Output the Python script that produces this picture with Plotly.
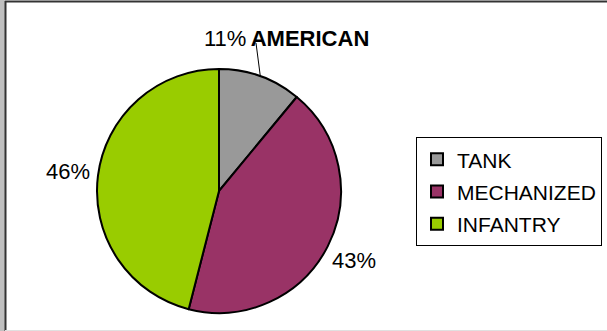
import math
import plotly.graph_objects as go

# Data
categories = ["TANK", "MECHANIZED", "INFANTRY"]
values = [11, 43, 46]
colors = ["#999999", "#993366", "#99CC00"]
title_text = "AMERICAN"

W, H = 607, 331
FONT = "Liberation Sans, Arial, sans-serif"

# pie placement (pixels)
cx, cy, r = 219, 191, 122
dom_x = [(cx - r) / W, (cx + r) / W]
dom_y = [1 - (cy + r) / H, 1 - (cy - r) / H]

total = sum(values)
pct = [f"{round(100 * v / total)}%" for v in values]

legend_labels = [f"<span style='font-size:21px'>{c}</span>" for c in categories]

fig = go.Figure(go.Pie(
    labels=legend_labels,
    values=values,
    sort=False,
    direction="clockwise",
    rotation=0,
    marker=dict(colors=colors, line=dict(color="black", width=2)),
    textinfo="none",
    domain=dict(x=dom_x, y=dom_y),
    hovertext=categories,
    hoverinfo="text+percent",
))

# data labels placed along each slice's mid-angle (Excel style)
cum = 0
label_r = 152
for i, v in enumerate(values):
    mid = (cum + v / 2) / total
    cum += v
    a = 2 * math.pi * mid
    ex = cx + r * math.sin(a)
    ey = cy - r * math.cos(a)
    if i == 0:
        # small slice: label moved up-left with a leader line
        lx, ly = 225, 38
        fig.add_shape(type="line", xref="paper", yref="paper",
                      x0=ex / W, y0=1 - ey / H, x1=256 / W, y1=1 - 43 / H,
                      line=dict(color="black", width=1))
    else:
        lx = cx + label_r * math.sin(a)
        ly = cy - label_r * math.cos(a)
    fig.add_annotation(x=lx / W, y=1 - ly / H, xref="paper", yref="paper",
                       text=pct[i], showarrow=False, xanchor="center", yanchor="middle",
                       font=dict(family=FONT, size=22, color="black"))

# frame
shapes = [
    dict(type="rect", xref="paper", yref="paper", x0=0, x1=5 / W, y0=0, y1=1,
         fillcolor="#c0c0c0", line=dict(width=0)),
    dict(type="line", xref="paper", yref="paper", x0=5.5 / W, x1=5.5 / W, y0=0, y1=1 - 1 / H,
         line=dict(color="#333333", width=2)),
    dict(type="line", xref="paper", yref="paper", x0=5 / W, x1=1, y0=1 - 1.5 / H, y1=1 - 1.5 / H,
         line=dict(color="#333333", width=2)),
    dict(type="line", xref="paper", yref="paper", x0=5 / W, x1=1, y0=0.5 / H, y1=0.5 / H,
         line=dict(color="#e0e0e0", width=1)),
]
for s in shapes:
    fig.add_shape(**s)

fig.update_layout(
    width=W, height=H,
    margin=dict(l=0, r=0, t=0, b=0),
    paper_bgcolor="white",
    plot_bgcolor="white",
    font=dict(family=FONT, size=21, color="black"),
    title=dict(text=f"<b>{title_text}</b>", x=310 / W, y=1 - 38 / H,
               xanchor="center", yanchor="middle",
               font=dict(family=FONT, size=22, color="black")),
    showlegend=True,
    legend=dict(x=416 / W, y=1 - 137 / H, xanchor="left", yanchor="top",
                bordercolor="black", borderwidth=1, bgcolor="white",
                font=dict(family=FONT, size=22.5, color="black")),
)

fig.write_html("out.html", config={"displayModeBar": False},
               post_script="document.body.style.margin='0px';document.body.style.overflow='hidden';")
